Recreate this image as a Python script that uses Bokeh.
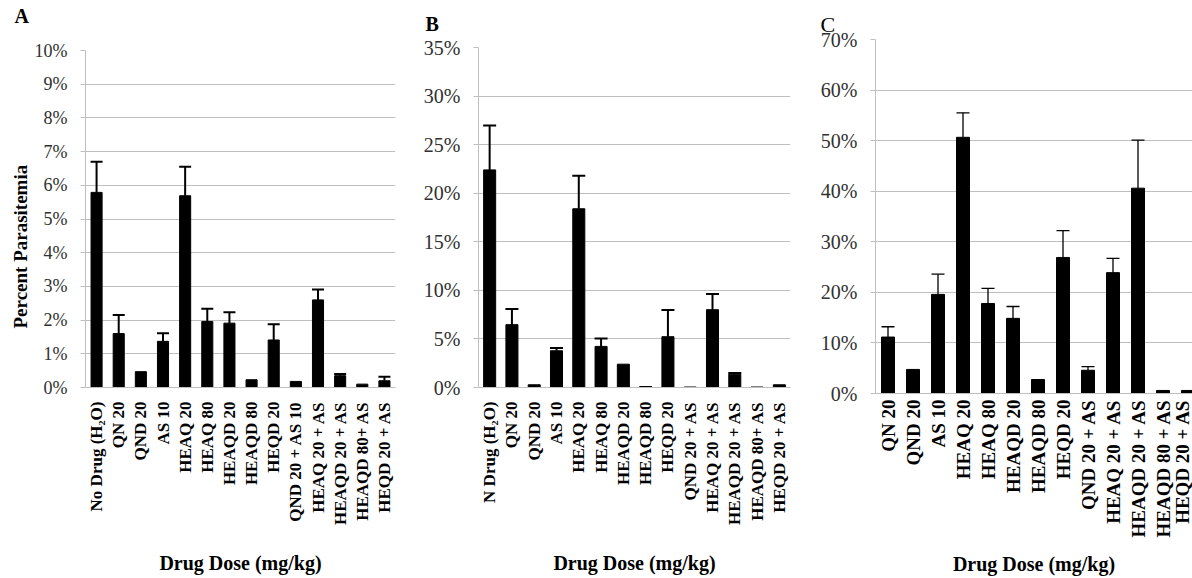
from bokeh.plotting import figure
from bokeh.models import Range1d, FixedTicker, PrintfTickFormatter, Whisker, TeeHead, ColumnDataSource, Title
from bokeh.layouts import row, column
from bokeh.embed import file_html
from bokeh.resources import INLINE
import math

# ---- data (percent parasitemia, upper error bar size) ----
labels_a = ["No Drug (H\u2082O)", "QN 20", "QND 20", "AS 10", "HEAQ 20", "HEAQ 80", "HEAQD 20",
            "HEAQD 80", "HEQD 20", "QND 20 + AS 10", "HEAQ 20 + AS", "HEAQD 20 + AS",
            "HEAQD 80+ AS", "HEQD 20 + AS"]
values_a = [5.79, 1.60, 0.47, 1.37, 5.69, 1.96, 1.91, 0.23, 1.41, 0.18, 2.60, 0.35, 0.10, 0.20]
errors_a = [0.91, 0.55, 0.0, 0.24, 0.86, 0.38, 0.32, 0.0, 0.47, 0.0, 0.31, 0.05, 0.0, 0.12]

labels_b = ["N Drug (H\u2082O)", "QN 20", "QND 20", "AS 10", "HEAQ 20", "HEAQ 80", "HEAQD 20",
            "HEAQD 80", "HEQD 20", "QND 20 + AS", "HEAQ 20 + AS", "HEAQD 20 + AS",
            "HEAQD 80+ AS", "HEQD 20 + AS"]
values_b = [22.4, 6.47, 0.28, 3.78, 18.4, 4.23, 2.4, 0.1, 5.23, 0.05, 8.01, 1.37, 0.05, 0.28]
errors_b = [4.56, 1.61, 0.0, 0.28, 3.4, 0.82, 0.0, 0.0, 2.75, 0.0, 1.62, 0.11, 0.0, 0.0]

labels_c = ["QN 20", "QND 20", "AS 10", "HEAQ 20", "HEAQ 80", "HEAQD 20", "HEAQD 80", "HEQD 20",
            "QND 20 + AS", "HEAQ 20 + AS", "HEAQD 20 + AS", "HEAQD 80 + AS", "HEQD 20 + AS"]
values_c = [11.16, 4.76, 19.6, 50.66, 17.8, 14.86, 2.77, 26.9, 4.6, 23.9, 40.6, 0.6, 0.6]
errors_c = [2.04, 0.0, 4.0, 4.84, 3.0, 2.34, 0.0, 5.3, 0.7, 2.8, 9.5, 0.0, 0.0]

SERIF = "Liberation Serif"
GRID = "#bfbfbf"
HEIGHT = 578


def panel(labels, values, errors, ymax, ystep, width, bl, br, bt, bb, xend,
          bar_w, head, wl, ysize, letter, loff, lstand, lvalign, lsize, lstyle,
          lab_size, lab_std, title_std, lline=1.2):
    n = len(labels)
    xs = list(range(n))
    p = figure(width=width, height=HEIGHT, output_backend="svg", toolbar_location=None,
               x_range=Range1d(-0.5, xend), y_range=Range1d(0, ymax),
               min_border_left=bl, min_border_right=br, min_border_top=bt, min_border_bottom=bb)
    p.outline_line_color = None
    p.background_fill_color = "white"
    p.border_fill_color = "white"

    p.title.text = letter
    p.title.align = "left"
    p.title.vertical_align = lvalign
    p.title.offset = loff
    p.title.standoff = lstand
    p.title.text_font = SERIF
    p.title.text_font_style = lstyle
    p.title.text_font_size = f"{lsize}px"
    p.title.text_line_height = lline
    p.title.text_color = "black"

    p.vbar(x=xs, top=values, width=bar_w, color="black")

    wx = [x for x, e in zip(xs, errors) if e > 0]
    wv = [v for v, e in zip(values, errors) if e > 0]
    wu = [v + e for v, e in zip(values, errors) if e > 0]
    src = ColumnDataSource(dict(base=wx, lower=wv, upper=wu))
    p.add_layout(Whisker(source=src, base="base", lower="lower", upper="upper",
                         line_color="black", line_width=wl,
                         upper_head=TeeHead(size=head, line_color="black", line_width=wl),
                         lower_head=None))

    # y axis
    yax = p.yaxis[0]
    yax.ticker = FixedTicker(ticks=list(range(0, ymax + 1, ystep)))
    yax.formatter = PrintfTickFormatter(format="%d%%")
    yax.major_label_text_font = SERIF
    yax.major_label_text_font_size = f"{ysize}px"
    yax.major_label_text_color = "#303030"
    yax.axis_line_color = GRID
    yax.major_tick_line_color = GRID
    yax.major_tick_out = 5
    yax.major_tick_in = 0
    yax.minor_tick_line_color = None
    yax.major_label_standoff = 13

    # x axis
    xax = p.xaxis[0]
    xax.ticker = FixedTicker(ticks=xs)
    xax.major_label_overrides = {i: lab for i, lab in enumerate(labels)}
    xax.major_label_orientation = math.pi / 2
    xax.major_label_text_font = SERIF
    xax.major_label_text_font_style = "bold"
    xax.major_label_text_font_size = f"{lab_size}px"
    xax.major_label_text_color = "black"
    xax.major_tick_line_color = None
    xax.major_tick_out = 0
    xax.minor_tick_line_color = None
    xax.axis_line_color = GRID
    xax.major_label_standoff = lab_std
    xax.axis_label = "Drug Dose (mg/kg)"
    xax.axis_label_text_font = SERIF
    xax.axis_label_text_font_style = "bold"
    xax.axis_label_text_font_size = "20px"
    xax.axis_label_text_color = "black"
    xax.axis_label_standoff = title_std

    p.xgrid.grid_line_color = None
    p.ygrid.grid_line_color = GRID
    p.ygrid.ticker = FixedTicker(ticks=list(range(0, ymax + 1, ystep)))
    return p


pa = panel(labels_a, values_a, errors_a, 10, 1, 410, 85, 15, 50, 191, 13.5,
           0.5, 12, 2, 18, "A\n ", -71, 4, "bottom", 20, "bold", 17, 14, 24, 1.0)
pa.add_layout(Title(text="Percent Parasitemia", align="left", offset=59, standoff=2,
                    text_font=SERIF, text_font_style="bold", text_font_size="19px",
                    text_color="black"), "left")

pb = panel(labels_b, values_b, errors_b, 35, 5, 405, 68, 25, 47, 191, 13.5,
           0.54, 13, 2, 20, "B", -53, 22, "top", 20, "bold", 17, 14, 24)

pc = panel(labels_c, values_c, errors_c, 70, 10, 377, 60, 0, 39, 185, 12.18,
           0.52, 13, 1.3, 20, "C", -55, 6, "bottom", 22, "normal", 19, 6, 12)

layout = row(column(pa), column(pb), column(pc))
open("out.html", "w").write(file_html(layout, INLINE))
